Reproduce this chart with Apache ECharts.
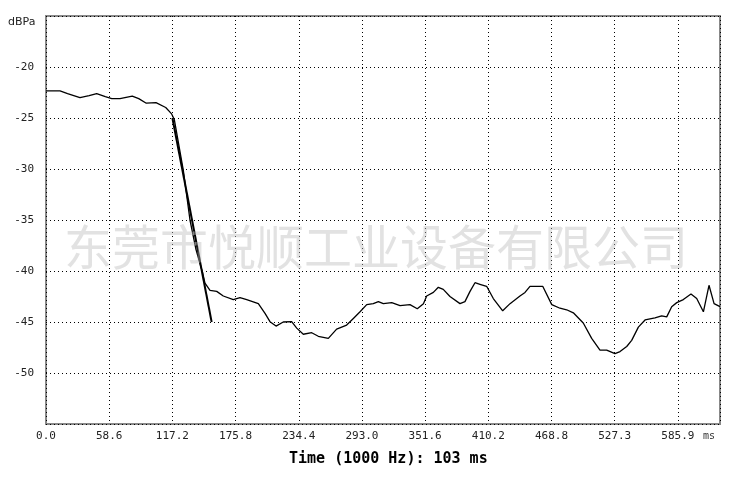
<!DOCTYPE html>
<html>
<head>
<meta charset="utf-8">
<script src="https://cdn.jsdelivr.net/npm/echarts@6/dist/echarts.min.js"></script>
<style>
html,body{margin:0;padding:0;background:#fff;}
#chart{width:753px;height:479px;}
</style>
</head>
<body>
<div id="chart"></div>
<script>
// Measured response (time in ms, level in dBPa)
const timeMs = [0,13,20,31.5,40,47,55,61,68.6,80,86,93,102,111,116.5,119,127.3,133.5,139.1,145.3,147.4,152.1,158.3,164.4,173.7,179.9,186.1,196.9,203.1,207.7,213.3,220,227.8,232.5,238.6,246.4,252.5,261.8,269.5,278.8,285,291.2,297.4,303.5,308.2,312.8,320.6,328.3,337.5,344.3,350,353,359.2,363.8,368.4,374.6,383.9,388.5,393.2,397.8,402.4,408.6,414.8,423.5,430.3,439.5,444.2,448.8,460.6,469,476.6,482.8,489,498.2,506,513.7,519.9,527.6,532.3,538.5,543.1,549.3,555.5,564.7,570.9,575.6,580.2,584.9,591,598.1,603.4,609.6,614.8,619.5,625];
const levelDb = [-22.35,-22.35,-22.6,-23.0,-22.8,-22.6,-22.9,-23.1,-23.1,-22.85,-23.1,-23.55,-23.5,-23.97,-24.6,-25.15,-30.1,-35.0,-37.9,-40.2,-41.2,-41.9,-42.0,-42.45,-42.8,-42.6,-42.8,-43.2,-44.15,-44.97,-45.4,-45.0,-44.97,-45.6,-46.2,-46.05,-46.4,-46.6,-45.7,-45.3,-44.65,-44.0,-43.3,-43.2,-43.0,-43.2,-43.1,-43.4,-43.3,-43.7,-43.2,-42.45,-42.1,-41.6,-41.8,-42.5,-43.2,-43.0,-42.0,-41.15,-41.3,-41.5,-42.7,-43.9,-43.2,-42.45,-42.1,-41.5,-41.5,-43.3,-43.65,-43.8,-44.1,-45.1,-46.6,-47.75,-47.75,-48.1,-47.9,-47.4,-46.8,-45.5,-44.8,-44.6,-44.4,-44.5,-43.5,-43.1,-42.8,-42.25,-42.7,-44.0,-41.4,-43.2,-43.5];
// Decay regression line
const fitTime = [117.2, 153.6];
const fitDb = [-25, -45];
// Axis settings
const xTickStep = 58.59375;
const xMax = 625;
const yMin = -55, yMax = -15, yStep = 5;
const yUnit = 'dBPa';
const xUnit = 'ms';
const xTitle = 'Time (1000 Hz): 103 ms';
const watermark = '东莞市悦顺工业设备有限公司';

const mainData = timeMs.map((t, i) => [t, levelDb[i]]);
const fitData = fitTime.map((t, i) => [t, fitDb[i]]);

const chart = echarts.init(document.getElementById('chart'));
const gridDash = { color: '#000', width: 1, type: [1, 3] };
chart.setOption({
  animation: false,
  backgroundColor: '#fff',
  grid: { left: 46, right: 33, top: 16, bottom: 55, show: true, borderColor: '#888', borderWidth: 2, backgroundColor: 'transparent' },
  xAxis: {
    type: 'value', min: 0, max: xMax, interval: xTickStep,
    axisLine: { show: false }, axisTick: { show: false },
    splitLine: { show: true, lineStyle: gridDash },
    axisLabel: {
      margin: 7, color: '#222', fontFamily: 'DejaVu Sans Mono', fontSize: 11,
      showMaxLabel: false,
      formatter: v => (Math.abs(v - xMax) < 1e-6 ? '' : v.toFixed(1))
    }
  },
  yAxis: {
    type: 'value', min: yMin, max: yMax, interval: yStep,
    axisLine: { show: false }, axisTick: { show: false },
    splitLine: { show: true, lineStyle: gridDash },
    axisLabel: {
      margin: 12, color: '#222', fontFamily: 'DejaVu Sans Mono', fontSize: 11,
      formatter: v => (v === yMin || v === yMax ? '' : String(v))
    }
  },
  graphic: [
    { type: 'text', left: 8, top: 17, z: 10, style: { text: yUnit, font: '11px "DejaVu Sans"', fill: '#222' } },
    { type: 'text', left: 703, top: 431, z: 10, style: { text: xUnit, font: '10px "DejaVu Sans Mono"', fill: '#333' } },
    { type: 'text', left: 289, top: 452, z: 10, style: { text: xTitle, font: 'bold 15px "DejaVu Sans Mono"', fill: '#000' } },
    { type: 'text', left: 64, top: 223, z: 100, silent: true,
      style: { text: watermark, font: '48px "Noto Sans CJK SC"', fill: 'rgba(185,185,185,0.42)' } }
  ],
  series: [
    { type: 'line', data: mainData, showSymbol: false, lineStyle: { color: '#000', width: 1.3 }, z: 3 },
    { type: 'line', data: fitData, showSymbol: false, lineStyle: { color: '#000', width: 2 }, z: 4 }
  ]
});
</script>
</body>
</html>
